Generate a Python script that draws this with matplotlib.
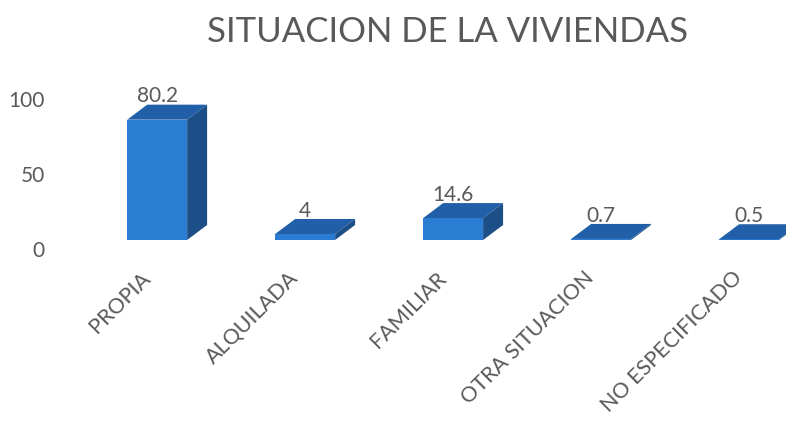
import matplotlib.pyplot as plt
from matplotlib.patches import Polygon
from matplotlib.transforms import ScaledTranslation
import numpy as np

categories = ["PROPIA", "ALQUILADA", "FAMILIAR", "OTRA SITUACION", "NO ESPECIFICADO"]
values = [80.2, 4, 14.6, 0.7, 0.5]
ytick_values = [0, 50, 100]

front_color = "#2A7DD3"
top_color = "#2160A8"
side_color = "#1C4F87"
text_color = "#595959"

plt.rcParams["font.family"] = ["Lato", "DejaVu Sans"]

fig = plt.figure(figsize=(7.89, 4.23), dpi=100)
ax = fig.add_axes([0.0773, 0.4043, 0.919, 0.3901])

x = np.arange(len(categories))
width = 0.405
dx, dy = 0.135, 10  # depth of the pseudo-3D boxes

ax.bar(x, values, width, color=front_color, edgecolor="none", zorder=2)
for xi, v in zip(x, values):
    left, right = xi - width / 2, xi + width / 2
    top = Polygon([(left, v), (right, v), (right + dx, v + dy), (left + dx, v + dy)],
                  closed=True, facecolor=top_color, edgecolor="none", zorder=3)
    side = Polygon([(right, 0), (right + dx, dy), (right + dx, v + dy), (right, v)],
                   closed=True, facecolor=side_color, edgecolor="none", zorder=3)
    ax.add_patch(top)
    ax.add_patch(side)
    ax.text(xi, v + dy + 1.5, f"{v:g}", ha="center", va="baseline",
            fontsize=15, color=text_color, zorder=4)

ax.set_xlim(-0.65, 4.25)
ax.set_ylim(-8, 102)
ax.set_xticks([])
ax.set_yticks([])
for s in ax.spines.values():
    s.set_visible(False)

# y labels sit on the back wall of the 3D chart, a bit lower than the front faces
ylab_tr = ax.get_yaxis_transform() + ScaledTranslation(-0.16, -0.115, fig.dpi_scale_trans)
for t in ytick_values:
    ax.text(0, t, str(t), transform=ylab_tr, ha="right", va="center",
            fontsize=15, color=text_color)

xlab_tr = ax.get_xaxis_transform() + ScaledTranslation(-0.10, -0.23, fig.dpi_scale_trans)
for xi, cat in zip(x, categories):
    ax.text(xi, 0, cat, transform=xlab_tr, rotation=45, ha="right", va="center",
            rotation_mode="anchor", fontsize=15.5, color=text_color)

fig.text(0.567, 0.924, "SITUACION DE LA VIVIENDAS", ha="center", va="center",
         fontsize=25, color=text_color)

fig.savefig("out.png", dpi=100)
